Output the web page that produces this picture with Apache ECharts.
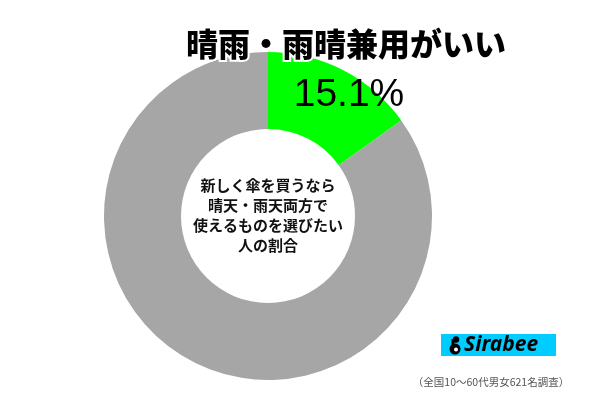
<!DOCTYPE html>
<html><head><meta charset="utf-8">
<script src="https://cdn.jsdelivr.net/npm/echarts@6/dist/echarts.min.js"></script>
<style>html,body{margin:0;padding:0;background:#fff}#c{width:600px;height:400px}</style>
</head><body><div id="c"></div>
<script>
const categories = ['晴雨・雨晴兼用がいい', 'その他'];
const values = [15.1, 84.9];
const colors = ['#00FF00', '#A6A6A6'];
const titleText = '晴雨・雨晴兼用がいい';
const centerLines = ['新しく傘を買うなら', '晴天・雨天両方で', '使えるものを選びたい', '人の割合'];
const footnote = '（全国10～60代男女621名調査）';

const chart = echarts.init(document.getElementById('c'));
chart.setOption({
  backgroundColor: '#fff',
  animation: false,
  series: [{
    type: 'pie',
    radius: [87, 164],
    center: [268, 216],
    startAngle: 90,
    clockwise: true,
    silent: true,
    label: { show: false },
    labelLine: { show: false },
    data: categories.map((n, i) => ({ name: n, value: values[i], itemStyle: { color: colors[i] } }))
  }],
  graphic: [
    { type: 'text', z: 10, x: 346, y: 44, style: {
        text: titleText, fill: '#000', font: '900 32px "Noto Sans CJK JP"',
        align: 'center', verticalAlign: 'middle', stroke: '#fff', lineWidth: 4 } },
    { type: 'text', z: 10, x: 349, y: 95, style: {
        text: values[0].toFixed(1) + '%', fill: '#000', font: '39px "Liberation Sans", Arial',
        align: 'center', verticalAlign: 'middle' } },
    { type: 'text', z: 10, x: 268, y: 215, style: {
        text: centerLines.join('\n'), fill: '#111', font: 'bold 15px "Noto Sans CJK JP"',
        lineHeight: 20, align: 'center', verticalAlign: 'middle' } },
    { type: 'rect', z: 5, shape: { x: 441, y: 334, width: 115, height: 22 }, style: { fill: '#00CCFF' } },
    { type: 'circle', z: 6, shape: { cx: 455, cy: 349, r: 5.5 }, style: { fill: '#000' } },
    { type: 'circle', z: 6, shape: { cx: 456, cy: 339.5, r: 3.2 }, style: { fill: '#000' } },
    { type: 'rect', z: 6, shape: { x: 451.5, y: 339, width: 3, height: 8 }, style: { fill: '#000' } },
    { type: 'circle', z: 7, shape: { cx: 456, cy: 349.5, r: 2 }, style: { fill: '#fff' } },
    { type: 'text', z: 6, x: 464, y: 345.5, style: {
        text: 'Sirabee', fill: '#000', font: 'italic bold 21px "Noto Sans", sans-serif',
        align: 'left', verticalAlign: 'middle' } },
    { type: 'text', z: 6, x: 491, y: 382, style: {
        text: footnote, fill: '#555', font: '10.5px "Noto Sans CJK JP"',
        align: 'center', verticalAlign: 'middle' } }
  ]
});
</script></body></html>
